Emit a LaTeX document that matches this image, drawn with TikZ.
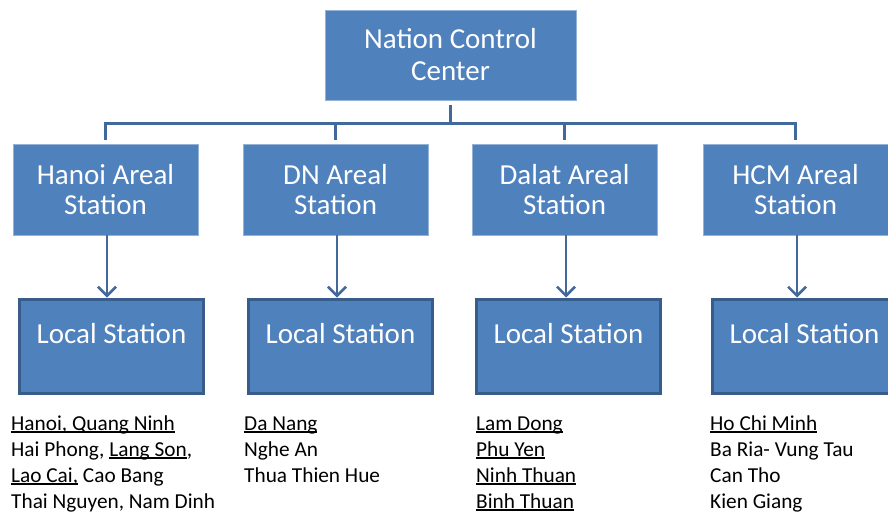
\documentclass[tikz,border=0pt]{standalone}
\usepackage{fontspec}
\setmainfont{Carlito}
\usetikzlibrary{arrows.meta}

\definecolor{boxblue}{HTML}{4F81BD}
\definecolor{edgeblue}{HTML}{385D8A}
\definecolor{linkblue}{HTML}{41699B}
\newsavebox{\ulbox}
\newcommand{\ulin}[1]{\sbox{\ulbox}{#1}\rlap{\rule[-2.6pt]{\wd\ulbox}{1.3pt}}\usebox{\ulbox}}

\begin{document}
\begin{tikzpicture}[
		x=1pt, y=-1pt,
		area/.style={rectangle, fill=boxblue, draw=boxblue!60!white, line width=0.6pt, text=white,
			minimum width=185pt, minimum height=91pt, align=center, font=\fontsize{29}{30.5}\selectfont},
		local/.style={rectangle, fill=boxblue, draw=edgeblue, line width=3pt, text=white, anchor=north,
			minimum width=184pt, inner ysep=0pt, text height=44.5pt, text depth=49.5pt, font=\fontsize{29}{30}\selectfont},
		places/.style={anchor=base west, align=left, inner sep=0pt, font=\fontsize{21.3}{26}\selectfont},
		bus/.style={draw=linkblue, line width=3.5pt},
		feed/.style={draw=linkblue, line width=2.5pt, -{Straight Barb[length=9pt,width=18pt]}}
	]
  \clip (0,0) rectangle (888,515);
  \node (ncc) [area, minimum width=251pt, minimum height=90pt, font=\fontsize{29}{32}\selectfont] at (450.5,55) {Nation Control\\Center};
  % areal stations
  \node (hanoi) [area] at (105.5,189.5) {Hanoi Areal\\Station};
  \node (dn) [area] at (335.5,189.5) {DN Areal\\Station};
  \node (dalat) [area] at (564.5,189.5) {Dalat Areal\\Station};
  \node (hcm) [area] at (795.5,189.5) {HCM Areal\\Station};
  % local stations
  \node (local_hanoi) [local] at (111.5,297.5) {Local Station};
  \node (local_dn) [local] at (340.5,297.5) {Local Station};
  \node (local_dalat) [local] at (568.5,297.5) {Local Station};
  \node (local_hcm) [local] at (804.5,297.5) {Local Station};
  % provinces (base = last line)
  \node (list_hanoi) [places] at (11,508) {\ulin{Hanoi, Quang Ninh}\\Hai Phong, \ulin{Lang Son},\\\ulin{Lao Cai,} Cao Bang\\Thai Nguyen, Nam Dinh};
  \node (list_dn) [places] at (244,482) {\ulin{Da Nang}\\Nghe An\\Thua Thien Hue};
  \node (list_dalat) [places] at (476,508) {\ulin{Lam Dong}\\\ulin{Phu Yen}\\\ulin{Ninh Thuan}\\\ulin{Binh Thuan}};
  \node (list_hcm) [places] at (710,508) {\ulin{Ho Chi Minh}\\Ba Ria- Vung Tau\\Can Tho\\Kien Giang};
  \foreach \a in {hanoi, dn, dalat, hcm} {
    \draw [bus, shorten <=5pt, shorten >=4pt] (ncc.south) -- ++(0,23) -| (\a.north);
    \draw [feed] ([xshift=1.5pt]\a.south) -- ([xshift=1.5pt]\a.south |- local_\a.north);
  }
\end{tikzpicture}
\end{document}
